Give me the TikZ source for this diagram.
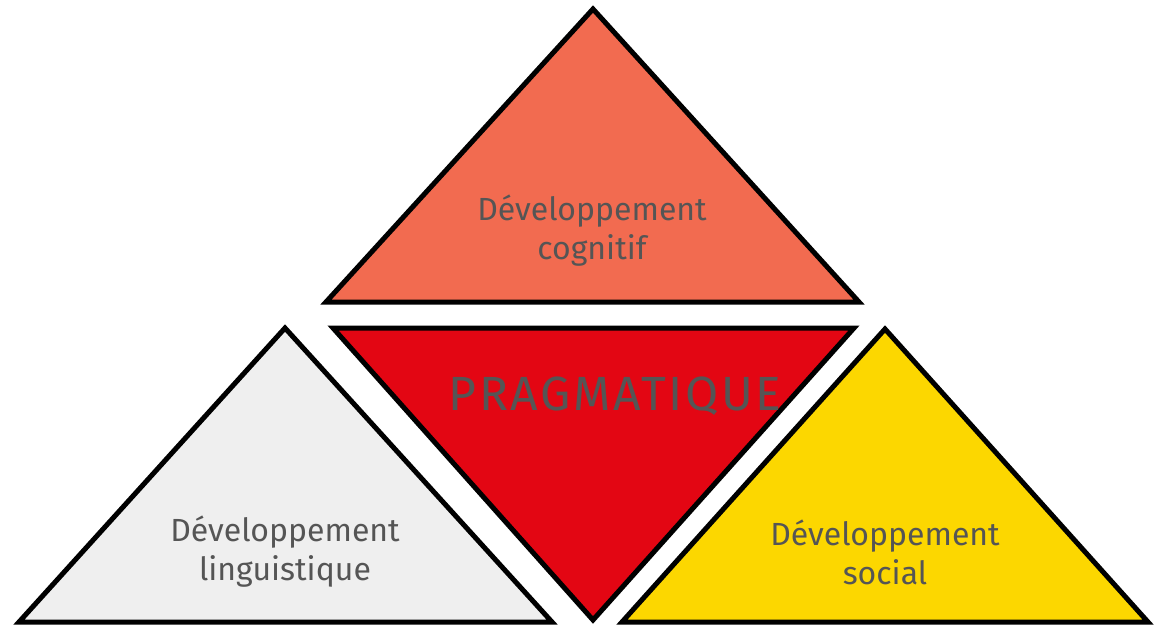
\documentclass[tikz,border=0pt]{standalone}
\usepackage{fontspec}
\setmainfont{Fira Sans}
\definecolor{saumon}{HTML}{F26B50}
\definecolor{rouge}{HTML}{E30613}
\definecolor{gris}{HTML}{EFEFEF}
\definecolor{jaune}{HTML}{FCD700}
\definecolor{texte}{HTML}{555555}
\tikzset{
	tri/.style={draw=black, line width=5pt},
	etiquette/.style={text=texte, align=center, font=\fontsize{32}{39}\selectfont}
}

\begin{document}
\begin{tikzpicture}[x=1pt, y=-1pt]
			%%%%% START %%%%%
			\useasboundingbox (0, 0) rectangle (1161, 627);
			
			\draw[tri, fill=saumon] (593, 9) -- (859, 302) -- (326, 302) -- cycle;
			\draw[tri, fill=rouge] (333, 328) -- (854, 328) -- (593, 620) -- cycle;
			\draw[tri, fill=gris] (285, 328) -- (552, 622) -- (19, 622) -- cycle;
			\draw[tri, fill=jaune] (885, 329) -- (1148, 622) -- (622, 622) -- cycle;
			
			\node[etiquette] (cognitif) at (592, 231) {Développement\\cognitif};
			\node[etiquette] (linguistique) at (285, 552) {Développement\\linguistique};
			\node[etiquette] (social) at (885, 552) {Développement\\social};
			\node[text=texte, font=\fontsize{48}{48}\selectfont\addfontfeatures{LetterSpace=5.5}] (pragmatique) at (615, 396) {PRAGMATIQUE};
			
			%%%%% END %%%%%
		\end{tikzpicture}
\end{document}
